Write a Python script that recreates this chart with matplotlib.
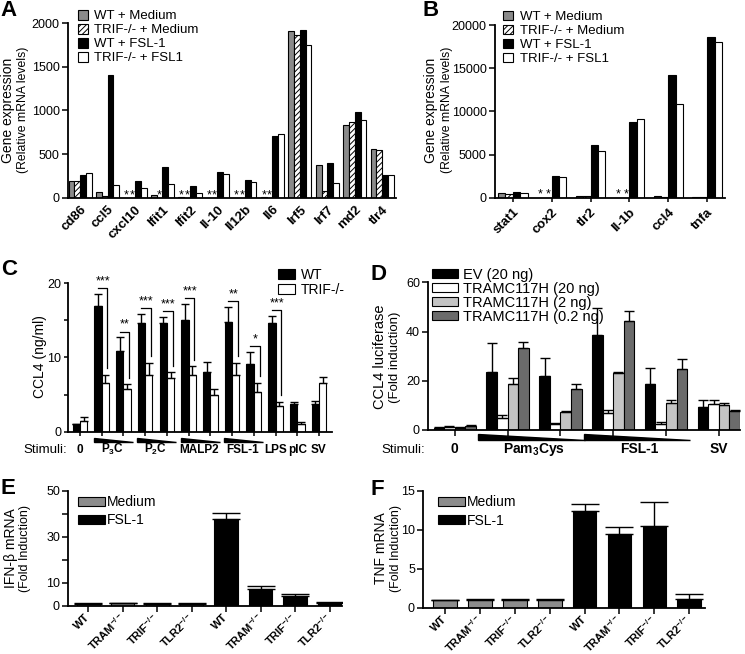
import matplotlib
matplotlib.use('Agg')
import matplotlib.pyplot as plt
import numpy as np
from matplotlib.patches import Polygon

plt.rcParams['font.family'] = ['Liberation Sans', 'DejaVu Sans']
plt.rcParams['mathtext.fontset'] = 'custom'
plt.rcParams['mathtext.rm'] = 'Liberation Sans'
plt.rcParams['mathtext.bf'] = 'Liberation Sans:bold'
plt.rcParams['mathtext.it'] = 'Liberation Sans:italic'
plt.rcParams['hatch.linewidth'] = 0.7

# ---------------- Panel A data ----------------
A_genes = ['cd86', 'ccl5', 'cxcl10', 'Ifit1', 'Ifit2', 'Il-10', 'Il12b', 'Il6', 'Irf5', 'Irf7', 'md2', 'tlr4']
A_wt_med = [190, 68, 0, 35, 10, 0, 0, 10, 1905, 373, 839, 565]
A_trif_med = [195, 25, 0, 0, 0, 0, 0, 0, 1867, 75, 869, 545]
A_wt_fsl = [260, 1400, 200, 360, 140, 295, 210, 705, 1925, 395, 983, 268]
A_trif_fsl = [285, 150, 120, 160, 60, 280, 185, 736, 1753, 170, 896, 258]
A_nd_wt_med = [2, 4, 5, 6, 7]
A_nd_trif_med = [2, 3, 4, 5, 6, 7]

# ---------------- Panel B data ----------------
B_genes = ['stat1', 'cox2', 'tlr2', 'Il-1b', 'ccl4', 'tnfa']
B_wt_med = [510, 0, 220, 0, 150, 80]
B_trif_med = [420, 0, 200, 0, 100, 60]
B_wt_fsl = [650, 2550, 6100, 8800, 14200, 18570]
B_trif_fsl = [560, 2360, 5440, 9110, 10850, 18000]
B_nd_wt_med = [1, 3]
B_nd_trif_med = [1, 3]

AB_labels = ['WT + Medium', 'TRIF-/- + Medium', 'WT + FSL-1', 'TRIF-/- + FSL1']

# ---------------- Panel C data ----------------
C_wt = [1.0, 16.9, 10.9, 14.6, 14.7, 15.0, 8.1, 14.8, 9.1, 14.7, 3.7, 3.8]
C_wt_err = [0.1, 1.7, 1.8, 1.3, 0.8, 2.2, 1.3, 2.0, 1.6, 0.9, 0.35, 0.4]
C_trif = [1.5, 6.6, 5.7, 7.7, 7.3, 7.7, 4.9, 7.6, 5.4, 3.4, 1.1, 6.5]
C_trif_err = [0.5, 1.1, 0.7, 1.6, 0.7, 1.1, 0.8, 1.7, 1.2, 0.6, 0.25, 0.9]
C_sig = ['', '***', '**', '***', '***', '***', '', '**', '*', '***', '', '']
C_stim = ['0', r'P$_\mathbf{3}$C', r'P$_\mathbf{2}$C', 'MALP2', 'FSL-1', 'LPS', 'pIC', 'SV']
C_stim_groups = [[0], [1, 2], [3, 4], [5, 6], [7, 8], [9], [10], [11]]

# ---------------- Panel D data ----------------
D_ev = [1.0, 23.4, 21.95, 38.5, 18.6, 9.2]
D_ev_err = [0.2, 11.8, 7.5, 11.0, 6.6, 3.0]
D_t20 = [1.2, 4.9, 2.3, 7.05, 2.4, 10.4]
D_t20_err = [0.3, 1.1, 0.4, 1.1, 0.7, 1.6]
D_t2 = [1.0, 18.6, 7.45, 23.0, 11.1, 10.0]
D_t2_err = [0.2, 2.5, 0.3, 0.7, 1.2, 0.8]
D_t02 = [1.6, 33.2, 16.5, 44.4, 24.8, 7.6]
D_t02_err = [0.3, 2.4, 2.2, 4.0, 3.9, 0.5]
D_labels = ['EV (20 ng)', 'TRAMC117H (20 ng)', 'TRAMC117H (2 ng)', 'TRAMC117H (0.2 ng)']
D_stim = ['0', r'Pam$_\mathbf{3}$Cys', 'FSL-1', 'SV']
D_stim_groups = [[0], [1, 2], [3, 4], [5]]

# ---------------- Panel E / F data ----------------
EF_cats = ['WT', r'TRAM$^{\mathbf{-/-}}$', r'TRIF$^{\mathbf{-/-}}$', r'TLR2$^{\mathbf{-/-}}$']
E_med = [1.0, 1.1, 1.0, 1.05]
E_med_err = [0.1, 0.15, 0.1, 0.1]
E_fsl = [37.9, 7.2, 4.2, 1.4]
E_fsl_err = [2.6, 1.4, 1.1, 0.4]
F_med = [1.03, 1.05, 1.03, 1.05]
F_med_err = [0.05, 0.1, 0.06, 0.1]
F_fsl = [12.4, 9.5, 10.5, 1.1]
F_fsl_err = [0.95, 0.9, 3.1, 0.7]

W, H = 745, 654
fig = plt.figure(figsize=(W / 100, H / 100), dpi=100)


def px_axes(l, r, t, b):
    return fig.add_axes([l / W, 1 - b / H, (r - l) / W, (b - t) / H])


def style(ax, tl=4):
    for s in ['top', 'right']:
        ax.spines[s].set_visible(False)
    ax.spines['left'].set_linewidth(1.3)
    ax.spines['bottom'].set_linewidth(1.3)
    ax.tick_params(width=1.1, length=tl, direction='out', labelsize=9, pad=2)


def ftext(x, y, s, **kw):
    fig.text(x / W, 1 - y / H, s, **kw)


EC = dict(edgecolor='black', linewidth=0.8)

# =============== Panel A ===============
axA = px_axes(68, 396, 23, 198)
style(axA)
xA = np.arange(len(A_genes))
wA = 0.21
styles = [dict(color='#8a8a8a'), dict(color='white', hatch='//////'),
          dict(color='black'), dict(color='white')]
series = [A_wt_med, A_trif_med, A_wt_fsl, A_trif_fsl]
hA = []
for i, (s, st) in enumerate(zip(series, styles)):
    hA.append(axA.bar(xA + (i - 1.5) * wA, s, wA, **st, **EC))
for g in A_nd_wt_med:
    axA.text(xA[g] - 1.5 * wA, 0, '*', ha='center', va='baseline', fontsize=9)
for g in A_nd_trif_med:
    axA.text(xA[g] - 0.5 * wA, 0, '*', ha='center', va='baseline', fontsize=9)
axA.set_xlim(-0.44, 11.5)
axA.set_ylim(0, 2000)
axA.set_yticks([0, 500, 1000, 1500, 2000])
axA.set_xticks(xA)
axA.set_xticklabels(A_genes, rotation=45, ha='right', rotation_mode='anchor',
                    fontweight='bold', fontsize=9.5)
axA.tick_params(axis='x', length=0, pad=4)
axA.legend(hA, AB_labels, loc='upper left', bbox_to_anchor=(0.03, 1.075), frameon=False,
           fontsize=9.5, handlelength=0.75, handleheight=0.75, handletextpad=0.5,
           labelspacing=0.12, borderpad=0, borderaxespad=0)
ftext(8, 110, 'Gene expression', rotation=90, ha='center', va='center', fontsize=10)
ftext(23, 110, '(Relative mRNA levels)', rotation=90, ha='center', va='center', fontsize=8.8)

# =============== Panel B ===============
axB = px_axes(495, 725, 25, 197.7)
style(axB)
xB = np.arange(len(B_genes))
wB = 0.19
seriesB = [B_wt_med, B_trif_med, B_wt_fsl, B_trif_fsl]
hB = []
for i, (s, st) in enumerate(zip(seriesB, styles)):
    hB.append(axB.bar(xB + (i - 1.5) * wB, s, wB, **st, **EC))
for g in B_nd_wt_med:
    axB.text(xB[g] - 1.5 * wB, 0, '*', ha='center', va='baseline', fontsize=9)
for g in B_nd_trif_med:
    axB.text(xB[g] - 0.5 * wB, 0, '*', ha='center', va='baseline', fontsize=9)
axB.set_xlim(-0.46, 5.46)
axB.set_ylim(0, 20000)
axB.set_yticks([0, 5000, 10000, 15000, 20000])
axB.set_xticks(xB)
axB.set_xticklabels(B_genes, rotation=45, ha='right', rotation_mode='anchor',
                    fontweight='bold', fontsize=9.5)
axB.tick_params(axis='x', length=3, pad=3)
axB.legend(hB, AB_labels, loc='upper left', bbox_to_anchor=(0.035, 1.083), frameon=False,
           fontsize=9.5, handlelength=0.75, handleheight=0.75, handletextpad=0.5,
           labelspacing=0.12, borderpad=0, borderaxespad=0)
ftext(431, 110, 'Gene expression', rotation=90, ha='center', va='center', fontsize=10)
ftext(447, 110, '(Relative mRNA levels)', rotation=90, ha='center', va='center', fontsize=8.8)

# =============== Panel C ===============
axC = px_axes(68, 332, 283.3, 431.7)
style(axC, tl=3)
xC = np.arange(len(C_wt))
wC = 0.335
h1 = axC.bar(xC - wC / 2, C_wt, wC, color='black', **EC)
h2 = axC.bar(xC + wC / 2, C_trif, wC, color='white', **EC)
axC.errorbar(xC - wC / 2, C_wt, yerr=[np.zeros(len(C_wt)), C_wt_err], fmt='none',
             ecolor='black', elinewidth=1, capsize=3, capthick=1)
axC.errorbar(xC + wC / 2, C_trif, yerr=[np.zeros(len(C_trif)), C_trif_err], fmt='none',
             ecolor='black', elinewidth=1, capsize=3, capthick=1)
for g, sig in enumerate(C_sig):
    if not sig:
        continue
    top = C_wt[g] + C_wt_err[g] + 0.8
    bot = C_trif[g] + C_trif_err[g] + 0.9
    xl = xC[g] - wC / 2
    xr = xC[g] + wC / 2 + 0.1
    axC.plot([xl, xr, xr], [top, top, bot], color='black', lw=0.9, clip_on=False)
    axC.text((xl + xr) / 2, top + 0.1, sig, ha='center', va='bottom', fontsize=9)
axC.set_xlim(-0.55, 11.6)
axC.set_ylim(0, 20)
axC.set_yticks([0, 5, 10, 15, 20])
axC.set_yticklabels(['0', '', '10', '', '20'])
axC.set_xticks(xC)
axC.set_xticklabels([])
axC.legend([h1, h2], ['WT', 'TRIF-/-'], loc='upper left', bbox_to_anchor=(0.795, 1.105),
           frameon=False, fontsize=10, handlelength=1.25, handleheight=0.7, handletextpad=0.4,
           labelspacing=0.1, borderpad=0, borderaxespad=0)
trC = axC.get_xaxis_transform()
axC.text(-0.6, -0.146, 'Stimuli:', transform=trC, ha='right', va='baseline', fontsize=9.5)
for lab, gs in zip(C_stim, C_stim_groups):
    xc = np.mean([xC[g] for g in gs])
    axC.text(xc, -0.146, lab, transform=trC, ha='center', va='baseline', fontsize=8.5,
             fontweight='bold')
    if len(gs) == 2:
        x0, x1 = xC[gs[0]] - 0.36, xC[gs[1]] + 0.44
        axC.add_patch(Polygon([[x0, -0.040], [x0, -0.067], [x1, -0.067]], closed=True,
                              transform=trC, color='black', clip_on=False))
ftext(40, 357, 'CCL4 (ng/ml)', rotation=90, ha='center', va='center', fontsize=10)

# =============== Panel D ===============
axD = px_axes(428.3, 740, 282.3, 430)
style(axD, tl=4)
xD = np.arange(len(D_ev))
wD = 0.2
Dseries = [(D_ev, D_ev_err, 'black'), (D_t20, D_t20_err, 'white'),
           (D_t2, D_t2_err, '#c4c4c4'), (D_t02, D_t02_err, '#6b6b6b')]
hD = []
for i, (v, e, c) in enumerate(Dseries):
    xs = xD + (i - 1.5) * wD
    hD.append(axD.bar(xs, v, wD, color=c, **EC))
    axD.errorbar(xs, v, yerr=[np.zeros(len(v)), e], fmt='none', ecolor='black',
                 elinewidth=1, capsize=3.5, capthick=1)
axD.set_xlim(-0.5, 5.4)
axD.set_ylim(0, 60)
axD.set_yticks([0, 20, 40, 60])
axD.set_xticks(xD)
axD.set_xticklabels([])
axD.legend(hD, D_labels, loc='upper left', bbox_to_anchor=(0.012, 1.1), frameon=False,
           fontsize=10.5, handlelength=1.8, handleheight=0.65, handletextpad=0.3,
           labelspacing=0.0, borderpad=0, borderaxespad=0)
trD = axD.get_xaxis_transform()
axD.text(-0.57, -0.158, 'Stimuli:', transform=trD, ha='right', va='baseline', fontsize=9.5)
for lab, gs in zip(D_stim, D_stim_groups):
    xc = np.mean([xD[g] for g in gs])
    axD.text(xc, -0.158, lab, transform=trD, ha='center', va='baseline', fontsize=10,
             fontweight='bold')
    if len(gs) == 2:
        x0, x1 = xD[gs[0]] - 0.55, xD[gs[1]] + 0.46
        axD.add_patch(Polygon([[x0, -0.027], [x0, -0.068], [x1, -0.068]], closed=True,
                              transform=trD, color='black', clip_on=False))
ftext(380, 357, 'CCL4 luciferase', rotation=90, ha='center', va='center', fontsize=10.5)
ftext(395, 357, '(Fold induction)', rotation=90, ha='center', va='center', fontsize=9.5)


# =============== Panels E / F ===============
def ef_panel(rect, med, med_err, fsl, fsl_err, xlim, ylim, yticks, ytlabels, leg_anchor):
    ax = px_axes(*rect)
    style(ax, tl=4)
    x = np.arange(8)
    w = 0.68
    hm = ax.bar(x[:4], med, w, color='#8c8c8c', **EC)
    hf = ax.bar(x[4:], fsl, w, color='black', **EC)
    ax.errorbar(x[:4], med, yerr=[np.zeros(4), med_err], fmt='none', ecolor='black',
                elinewidth=1, capsize=10, capthick=1)
    ax.errorbar(x[4:], fsl, yerr=[np.zeros(4), fsl_err], fmt='none', ecolor='black',
                elinewidth=1, capsize=10, capthick=1)
    ax.set_xlim(*xlim)
    ax.set_ylim(*ylim)
    ax.set_yticks(yticks)
    ax.set_yticklabels(ytlabels)
    ax.set_xticks(x)
    ax.set_xticklabels(EF_cats * 2, rotation=45, ha='right', va='center',
                       rotation_mode='anchor', fontweight='bold', fontsize=8.0)
    ax.tick_params(axis='x', pad=3)
    ax.legend([hm, hf], ['Medium', 'FSL-1'], loc='upper left', bbox_to_anchor=leg_anchor,
              frameon=False, fontsize=10, handlelength=1.95, handleheight=0.6,
              handletextpad=0.15, labelspacing=0.3, borderpad=0, borderaxespad=0)
    return ax


axE = ef_panel((68.3, 341.7, 490.7, 606), E_med, E_med_err, E_fsl, E_fsl_err,
               (-0.58, 7.35), (0, 50), [0, 10, 20, 30, 40, 50],
               ['0', '10', '', '30', '', '50'], (0.035, 0.96))
ftext(11, 548, 'IFN-β mRNA', rotation=90, ha='center', va='center', fontsize=10)
ftext(25, 548, '(Fold Induction)', rotation=90, ha='center', va='center', fontsize=9)

axF = ef_panel((423.3, 705, 490.7, 608), F_med, F_med_err, F_fsl, F_fsl_err,
               (-0.62, 7.45), (0, 15), [0, 5, 10, 15],
               ['0', '5', '10', '15'], (0.052, 0.96))
ftext(381, 548, 'TNF mRNA', rotation=90, ha='center', va='center', fontsize=10)
ftext(396, 548, '(Fold Induction)', rotation=90, ha='center', va='center', fontsize=9)

# panel letters
for lab, x, y in [('A', 0, 0.5), ('B', 422, 0.5), ('C', 1, 259), ('D', 370, 264),
                  ('E', 0, 478), ('F', 371, 479)]:
    ftext(x, y, lab, ha='left', va='top', fontsize=16, fontweight='bold')

fig.savefig('out.png', dpi=100)
